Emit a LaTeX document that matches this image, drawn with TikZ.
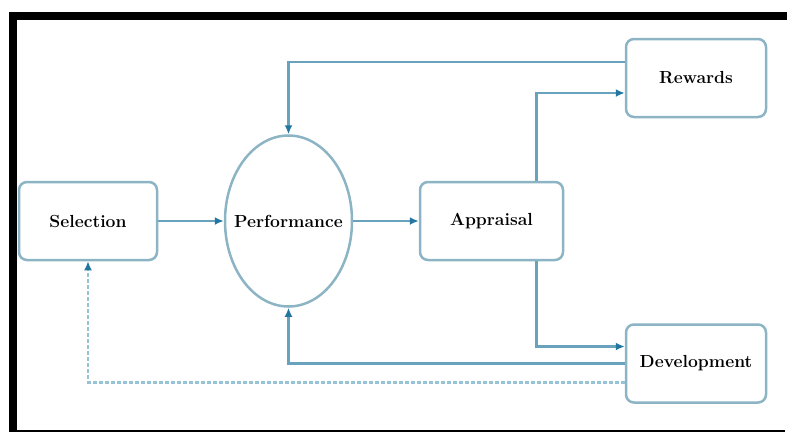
\documentclass[tikz,border=0pt]{standalone}
\usetikzlibrary{arrows.meta,shapes.geometric}
\definecolor{flowline}{RGB}{105,162,188}
\definecolor{flowtip}{RGB}{35,118,160}
\definecolor{boxline}{RGB}{140,180,196}
\definecolor{backline}{RGB}{150,196,214}

\begin{document}
\begin{tikzpicture}[x=1pt, y=-1pt,
	stage/.style={draw=boxline, line width=2.5pt, rounded corners=8pt, minimum width=138pt, minimum height=78pt, font=\fontsize{17.5}{20}\selectfont\bfseries},
	flow/.style={draw=flowline, line width=2.5pt, -{Latex[length=9pt,width=8pt,color=flowtip]}},
	backflow/.style={flow, draw=backline, dash pattern=on 4pt off 2pt}]
	\useasboundingbox (0,0) rectangle (788,432);
	% frame
	\fill (9,12) rectangle (787,20);
	\fill (9,12) rectangle (17,432);
	\fill (9,430) rectangle (785,432);

	\node [stage] (sel) at (88,221) {Selection};
	\node [draw=boxline, line width=2.5pt, ellipse, inner sep=0pt, minimum width=127pt, minimum height=171pt,
		label={[font=\fontsize{17.5}{20}\selectfont\bfseries]center:Performance}] (perf) at (288.5,221) {};
	\node [stage, minimum width=143pt] (appr) at (491.5,221) {Appraisal};
	\node [stage, minimum width=140pt] (rew) at (696,78) {Rewards};
	\node [stage, minimum width=140pt] (dev) at (696,363.5) {Development};

	\draw [flow] (sel.east) -- (perf.west);
	\draw [flow] (perf.east) -- (appr.west);
	\draw [flow] ([yshift=16pt]rew.west) -| (perf.north);
	\draw [flow] ([xshift=45pt]appr.north) |- ([yshift=-15pt]rew.west);
	\draw [flow] ([xshift=45pt]appr.south) |- ([yshift=17pt]dev.west);
	\draw [flow] (dev.west) -| (perf.south);
	\draw [backflow] ([yshift=-19pt]dev.west) -| (sel.south);
%	\draw [step=50, help lines] (0,0) grid (788,432);
\end{tikzpicture}
\end{document}
